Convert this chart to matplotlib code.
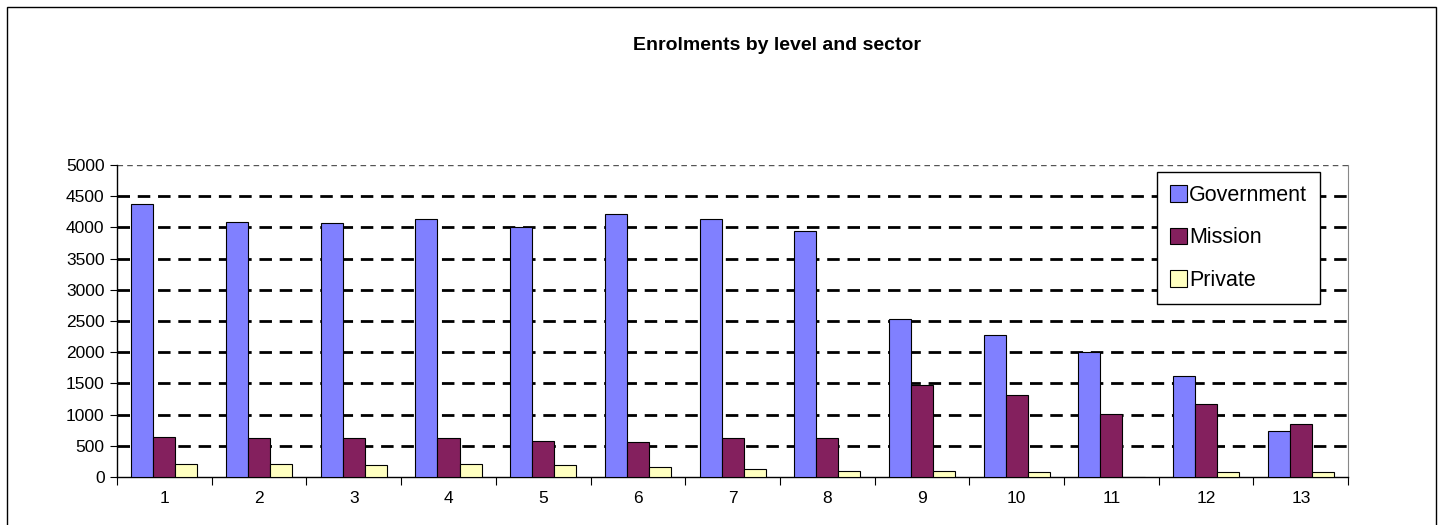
import matplotlib.pyplot as plt
import numpy as np
from matplotlib.patches import Rectangle

plt.rcParams['font.family'] = ['Liberation Sans', 'DejaVu Sans']

levels = ['1', '2', '3', '4', '5', '6', '7', '8', '9', '10', '11', '12', '13']
government = [4370, 4090, 4070, 4130, 4010, 4210, 4130, 3950, 2530, 2270, 2000, 1615, 735]
mission = [640, 620, 620, 620, 580, 555, 620, 620, 1480, 1315, 1015, 1175, 855]
private = [215, 215, 200, 215, 200, 155, 135, 95, 95, 75, 0, 75, 75]

fig = plt.figure(figsize=(14.45, 5.25), dpi=100)
ax = fig.add_axes([0.081, 0.0914, 0.852, 0.5943])

x = np.arange(len(levels))
w = 0.233
ax.bar(x - w, government, w, color='#8080ff', edgecolor='black', linewidth=0.8, label='Government', zorder=3)
ax.bar(x, mission, w, color='#84205e', edgecolor='black', linewidth=0.8, label='Mission', zorder=3)
ax.bar(x + w, private, w, color='#ffffc0', edgecolor='black', linewidth=0.8, label='Private', zorder=3)

ax.set_xlim(-0.5, len(levels) - 0.5)
ax.set_ylim(0, 5000)
ax.set_yticks(np.arange(0, 5001, 500))
ax.set_xticks(x)
ax.set_xticklabels(levels)
ax.set_xticks(np.arange(-0.5, len(levels), 1), minor=True)
ax.tick_params(axis='x', which='major', length=0, pad=10, labelsize=12.5)
ax.tick_params(axis='x', which='minor', length=6, direction='out', width=0.8)
ax.tick_params(axis='y', length=5, width=0.8, labelsize=12.5, pad=4)

for v in np.arange(500, 5000, 500):
    ax.axhline(v, color='black', linestyle=(0, (4.5, 2.8)), linewidth=2.0, zorder=1)
ax.axhline(5000, color='#555555', linestyle=(0, (4, 3)), linewidth=1.0, zorder=1)

ax.spines['top'].set_visible(False)
ax.spines['right'].set_color('#888888')
ax.spines['right'].set_linewidth(0.8)
ax.spines['left'].set_linewidth(1.0)
ax.spines['bottom'].set_linewidth(1.0)

leg = ax.legend(loc='upper right', bbox_to_anchor=(0.977, 0.978), borderaxespad=0,
                fontsize=15.5, frameon=True, fancybox=False, edgecolor='black',
                framealpha=1, handlelength=0.8, handleheight=0.8, handletextpad=0.1,
                labelspacing=1.0, borderpad=0.6)
leg.get_frame().set_linewidth(1.0)
leg.set_zorder(5)

fig.text(0.538, 0.913, 'Enrolments by level and sector', ha='center', va='center',
         fontsize=14, fontweight='bold')

fig.patches.append(Rectangle((0.005, -0.1), 0.989, 1.087, transform=fig.transFigure,
                             fill=False, edgecolor='black', linewidth=1.0))

fig.savefig('out.png', dpi=100)
